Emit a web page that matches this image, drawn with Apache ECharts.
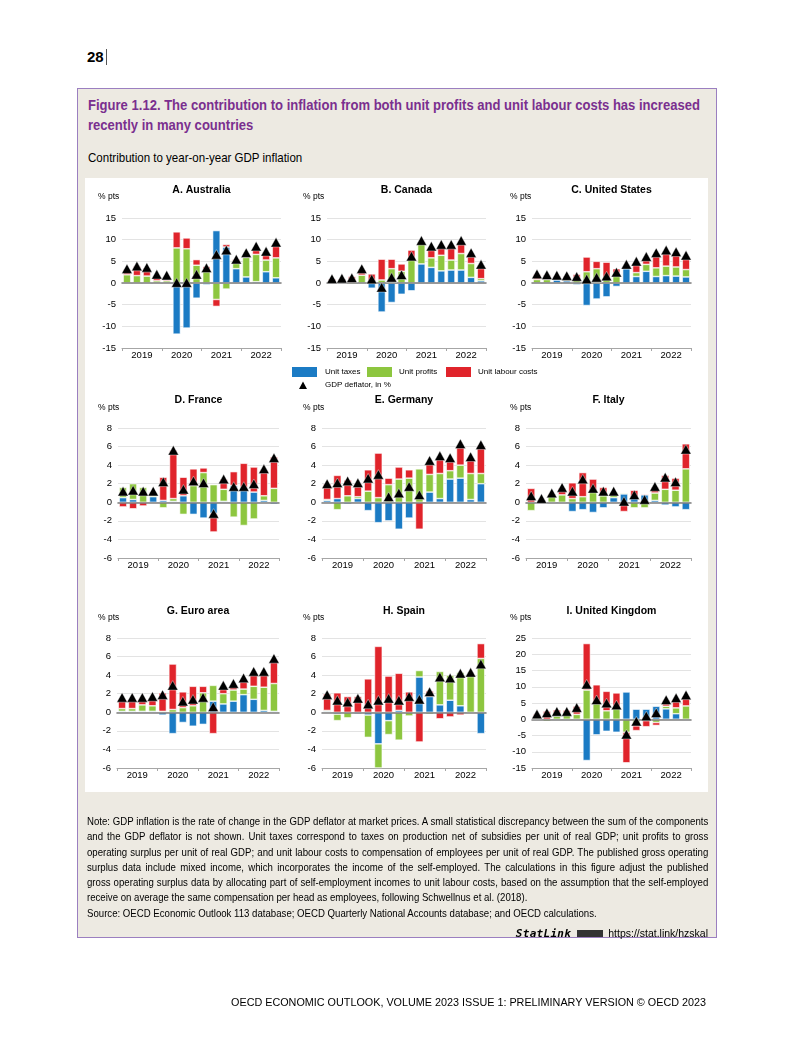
<!DOCTYPE html>
<html><head><meta charset="utf-8">
<script src="https://cdn.jsdelivr.net/npm/echarts@6/dist/echarts.min.js"></script>
<style>
body{margin:0;background:#fff;}
#page{position:relative;width:793px;height:1058px;overflow:hidden;font-family:"Liberation Sans",Arial,sans-serif;color:#000;}
.abs{position:absolute;}
#pno{left:87px;top:48px;font:bold 15px "Liberation Sans",Arial,sans-serif;}
#pbar{left:106px;top:49px;width:1px;height:16px;background:#555;}
#box{left:77px;top:88px;width:638px;height:848px;border:1px solid #9b7fc0;background:#edeae2;}
#title{left:88px;top:95px;width:720px;font-weight:bold;font-size:15px;line-height:19.5px;color:#7a2f8f;white-space:nowrap;transform:scaleX(0.87);transform-origin:0 0;}
#sub{left:88px;top:150px;font-size:12.8px;line-height:16px;white-space:nowrap;transform:scaleX(0.9);transform-origin:0 0;}
#white{left:85px;top:178px;width:623px;height:614px;background:#fff;}
#chart{left:0;top:0;width:793px;height:1058px;}
#note{left:87px;top:814px;width:710px;font-size:11px;line-height:15.3px;transform:scaleX(0.875);transform-origin:0 0;}
#note div{text-align:justify;text-align-last:justify;white-space:nowrap;}
#note div.last{text-align:left;text-align-last:left;}
#statlink{left:440px;top:926px;width:268px;text-align:right;font-size:10.5px;line-height:14px;}
#statlink b{font:italic bold 11px "DejaVu Sans Mono",monospace;letter-spacing:0.3px;}
#statlink i.ic{display:inline-block;width:26px;height:7px;background:#333;margin:0 5px 1px 6px;vertical-align:middle;font-style:normal;}
#footer{left:150px;top:996px;width:556px;text-align:right;font:10.8px "Liberation Sans",Arial,sans-serif;}
</style></head><body>
<div id="page">
 <div id="pno" class="abs">28</div><div id="pbar" class="abs"></div>
 <div id="box" class="abs"></div>
 <div id="title" class="abs">Figure 1.12. The contribution to inflation from both unit profits and unit labour costs has increased<br>recently in many countries</div>
 <div id="sub" class="abs">Contribution to year-on-year GDP inflation</div>
 <div id="white" class="abs"></div>
 <div id="chart" class="abs"></div>
 <div id="note" class="abs">
  <div>Note: GDP inflation is the rate of change in the GDP deflator at market prices. A small statistical discrepancy between the sum of the components</div>
  <div>and the GDP deflator is not shown. Unit taxes correspond to taxes on production net of subsidies per unit of real GDP; unit profits to gross</div>
  <div>operating surplus per unit of real GDP; and unit labour costs to compensation of employees per unit of real GDP. The published gross operating</div>
  <div>surplus data include mixed income, which incorporates the income of the self-employed. The calculations in this figure adjust the published</div>
  <div>gross operating surplus data by allocating part of self-employment incomes to unit labour costs, based on the assumption that the self-employed</div>
  <div class="last">receive on average the same compensation per head as employees, following Schwellnus et al. (2018).</div>
  <div class="last">Source: OECD Economic Outlook 113 database; OECD Quarterly National Accounts database; and OECD calculations.</div>
 </div>
 <div id="statlink" class="abs"><b>StatLink</b><i class="ic"></i>https://stat.link/hzskal</div>
 <div id="footer" class="abs">OECD ECONOMIC OUTLOOK, VOLUME 2023 ISSUE 1: PRELIMINARY VERSION © OECD 2023</div>
</div>
<script>
// ---------- categories & labels ----------
const quarters = ['2019Q1','2019Q2','2019Q3','2019Q4','2020Q1','2020Q2','2020Q3','2020Q4',
                  '2021Q1','2021Q2','2021Q3','2021Q4','2022Q1','2022Q2','2022Q3','2022Q4'];
const years = ['2019','2020','2021','2022'];
const componentNames = ['Unit taxes','Unit profits','Unit labour costs'];
const deflatorName = 'GDP deflator, in %';
const panelTitles = ['A. Australia','B. Canada','C. United States','D. France','E. Germany','F. Italy','G. Euro area','H. Spain','I. United Kingdom'];
const unitLabel = '% pts';
const ticksWide = [-15,-10,-5,0,5,10,15];
const ticksNarrow = [-6,-4,-2,0,2,4,6,8];
const ticksUK = [-15,-10,-5,0,5,10,15,20,25];

// ---------- data (percentage points) ----------
const australiaTaxes    = [0,0,0,0,0,-11.8,-10.4,-3.5,-0.4,12.1,8.3,3.3,1.4,0.3,2.6,1.2];
const australiaProfits  = [1.9,1.7,1.6,0.5,0.5,8.1,7.9,4.1,2.9,-3.8,-1.4,1.7,4.5,6.3,2.7,4.6];
const australiaULC      = [1.2,2.2,1.9,1.2,1.0,3.7,2.5,1.3,0.9,-1.6,0.6,0.5,0.4,1.2,1.3,3.0];
const australiaDeflator = [3.3,3.9,3.6,2.0,1.8,0.1,0.1,2.0,3.5,6.6,7.6,5.5,7.0,8.5,7.3,9.4];

const canadaTaxes    = [0.1,0.1,0,0,-1.2,-6.7,-4.5,-2.6,-1.8,4.4,3.6,2.8,3.0,3.0,1.3,0.5];
const canadaProfits  = [0.1,0.1,-0.3,1.8,0.2,0.7,3.3,2.7,5.6,4.9,2.2,3.6,2.3,3.8,3.2,0.5];
const canadaULC      = [0.8,0.8,1.5,1.2,1.9,4.8,2.2,1.7,2.0,0.2,1.9,2.0,3.4,2.3,2.0,2.8];
const canadaDeflator = [1.0,1.1,1.2,3.3,0.9,-1.0,1.3,1.9,6.2,9.8,8.5,8.9,8.9,9.8,7.0,4.3];

const usTaxes    = [-0.1,-0.2,0.7,0.5,-0.4,-5.2,-3.7,-3.2,-0.8,3.3,1.5,2.7,1.5,1.7,1.6,1.4];
const usProfits  = [0.8,0.8,0.3,0.3,0.8,2.6,3.3,1.0,2.2,0.4,0.9,1.6,2.0,2.2,2.1,1.7];
const usULC      = [1.2,1.0,0.6,0.7,1.2,3.4,1.7,3.8,1.1,0.3,2.2,1.3,3.0,3.3,3.0,2.8];
const usDeflator = [2.1,1.9,1.8,1.7,1.5,0.9,1.3,1.6,2.5,4.3,5.0,6.1,7.0,7.6,7.2,6.4];

const franceTaxes    = [0.5,0.3,0,0.6,0.2,0.1,0.7,-1.3,-1.7,-1.2,0.1,1.8,1.6,1.1,0.2,-0.2];
const franceProfits  = [1.1,1.7,1.6,0.4,-0.6,0.3,-1.3,1.8,3.2,1.9,1.3,-1.6,-2.5,-1.8,0.5,1.5];
const franceULC      = [-0.5,-0.7,-0.4,0.1,2.5,5.2,2.0,1.8,0.5,-2.0,1.1,1.5,2.6,2.7,2.8,3.4];
const franceDeflator = [1.2,1.3,1.2,1.2,2.2,5.6,1.4,2.3,2.1,-1.2,2.5,1.7,1.7,2.0,3.6,4.8];

const germanyTaxes    = [0.2,0.4,-0.2,0.4,-0.9,-2.2,-2.0,-2.9,-1.7,0,1.1,0.4,2.5,2.6,0.3,2.0];
const germanyProfits  = [0.1,-0.8,0.7,0.2,1.2,0.5,1.9,2.5,2.6,3.6,1.9,2.7,0.9,1.4,2.8,1.1];
const germanyULC      = [1.7,2.5,1.7,1.4,2.3,4.8,0.7,1.3,0.9,-2.9,1.2,1.7,1.2,2.1,1.5,3.0];
const germanyDeflator = [2.0,2.1,2.3,2.1,2.6,3.0,0.6,1.0,1.7,0.8,4.5,5.0,4.8,6.3,4.9,6.2];

const italyTaxes    = [0,0.1,0,0,-1.0,-0.8,-1.1,-0.6,0.5,0.9,0.6,0.8,0.2,-0.3,-0.5,-0.8];
const italyProfits  = [-0.9,0.1,0.7,0.8,0.4,0.6,1.2,0.7,0.6,0.1,-0.6,-0.6,0.8,1.4,1.3,3.6];
const italyULC      = [1.5,0.1,0.2,0.7,1.7,2.6,1.3,0.9,-0.1,-1.0,0.7,0.1,0.6,1.5,1.3,2.7];
const italyDeflator = [0.7,0.4,1.0,1.6,1.2,2.5,1.5,1.2,1.2,0.1,0.8,0.3,1.7,2.7,2.2,5.7];

const euroTaxes    = [0.1,0.1,0.1,0.1,-0.3,-2.3,-1.1,-1.5,-1.3,1.2,0.9,1.2,1.9,1.4,0.2,0.1];
const euroProfits  = [0.3,0.3,0.7,0.6,0.1,0.3,0.5,0.7,2.1,1.7,1.1,1.2,0.6,1.4,2.5,3.0];
const euroULC      = [1.0,1.0,0.7,0.8,2.0,4.9,1.7,2.1,0.7,-2.3,0.6,0.4,0.9,1.4,1.5,2.5];
const euroDeflator = [1.6,1.6,1.6,1.7,1.9,2.9,1.2,1.4,1.6,0.6,2.9,3.1,3.7,4.4,4.4,5.8];

const spainTaxes    = [0.1,-0.2,0,-0.2,-0.3,-3.4,-0.9,0.2,0,3.8,1.7,0.8,1.3,0.7,0,-2.3];
const spainProfits  = [0.1,-0.7,-0.6,0,-2.4,-2.6,-1.5,-3.0,-0.4,0.7,-0.2,3.6,2.7,3.6,4.0,5.8];
const spainULC      = [1.8,2.1,1.7,1.7,3.6,7.1,3.9,4.0,2.2,-3.2,0.6,-0.7,-0.5,-0.3,0.1,1.6];
const spainDeflator = [1.9,1.3,1.1,1.5,0.9,1.3,1.5,1.3,1.7,1.4,2.2,3.8,3.7,4.2,4.3,5.2];

const ukTaxes    = [0,0,0,0,0,-12.7,-4.8,-3.7,-4.0,8.4,3.1,3.1,4.0,3.2,1.7,-0.3];
const ukProfits  = [0.4,-0.6,1.0,1.3,1.5,9.0,5.0,2.6,3.7,-4.0,-2.0,-0.4,-1.0,0.8,1.8,4.1];
const ukULC      = [1.2,2.5,1.9,1.5,2.5,14.3,5.6,6.0,4.4,-9.4,-1.5,-1.9,-0.9,1.8,2.8,3.1];
const ukDeflator = [1.6,2.0,2.4,2.4,3.6,10.8,6.0,5.0,4.4,-4.6,-0.6,1.0,2.0,6.0,6.6,7.5];

const panelData = [
  [australiaTaxes, australiaProfits, australiaULC, australiaDeflator, ticksWide],
  [canadaTaxes, canadaProfits, canadaULC, canadaDeflator, ticksWide],
  [usTaxes, usProfits, usULC, usDeflator, ticksWide],
  [franceTaxes, franceProfits, franceULC, franceDeflator, ticksNarrow],
  [germanyTaxes, germanyProfits, germanyULC, germanyDeflator, ticksNarrow],
  [italyTaxes, italyProfits, italyULC, italyDeflator, ticksNarrow],
  [euroTaxes, euroProfits, euroULC, euroDeflator, ticksNarrow],
  [spainTaxes, spainProfits, spainULC, spainDeflator, ticksNarrow],
  [ukTaxes, ukProfits, ukULC, ukDeflator, ticksUK]
];

// ---------- layout & style ----------
const colors = ['#1b7bc4', '#8dc63f', '#e0242b'];
const gridBoxes = [
  {left:122, top:218, width:159}, {left:327, top:218, width:159}, {left:532, top:218, width:159},
  {left:118, top:428, width:161}, {left:322, top:428, width:164}, {left:526, top:428, width:165},
  {left:117, top:638, width:162}, {left:322, top:638, width:164}, {left:532, top:638, width:159}
];
const gridHeight = 130;
const titleY = [190, 400, 611];
const unitY = [197, 408, 618];
const unitX = [98, 303, 510];
const baseFont = '"Liberation Sans", Arial, sans-serif';

const chart = echarts.init(document.getElementById('chart'), null, {renderer:'canvas'});
const grid = [], xAxis = [], yAxis = [], series = [], graphic = [];

panelData.forEach((pd, i) => {
  const g = gridBoxes[i];
  const ticks = pd[4];
  grid.push({left:g.left, top:g.top, width:g.width, height:gridHeight, containLabel:false});
  // bar category axis (zero line)
  xAxis.push({
    type:'category', gridIndex:i, data:quarters, position:'bottom', z:3,
    axisLine:{show:true, onZero:true, lineStyle:{color:'#7f7f7f', width:1.6}},
    axisTick:{show:false}, axisLabel:{show:false}, splitLine:{show:false}
  });
  // year axis at bottom
  xAxis.push({
    type:'category', gridIndex:i, data:years, position:'bottom',
    axisLine:{show:true, onZero:false, lineStyle:{color:'#a6a6a6', width:1}},
    axisTick:{show:true, interval:0, length:3, lineStyle:{color:'#a6a6a6'}},
    axisLabel:{show:true, interval:0, fontSize:9.5, color:'#000', margin:2, fontFamily:baseFont},
    splitLine:{show:false}
  });
  yAxis.push({
    type:'value', gridIndex:i, min:ticks[0], max:ticks[ticks.length-1], interval:ticks[1]-ticks[0],
    axisLine:{show:false}, axisTick:{show:false},
    axisLabel:{fontSize:9.5, color:'#000', margin:6, fontFamily:baseFont},
    splitLine:{show:true, lineStyle:{color:'#e3e3e3', width:1}}
  });
  for (let k = 0; k < 3; k++) {
    series.push({
      type:'bar', name:componentNames[k], xAxisIndex:2*i, yAxisIndex:i, stack:'s'+i,
      data:pd[k], barWidth:'76%', z:2,
      itemStyle:{color:colors[k], borderColor:'#ffffff', borderWidth:0.6},
      emphasis:{disabled:true}
    });
  }
  series.push({
    type:'scatter', name:deflatorName, xAxisIndex:2*i, yAxisIndex:i, data:pd[3],
    symbol:'triangle', symbolSize:[10.5,9.5], z:5,
    itemStyle:{color:'#000', borderColor:'#fff', borderWidth:0.4, opacity:1},
    emphasis:{disabled:true}
  });
  const row = Math.floor(i/3), col = i%3;
  graphic.push({type:'text', z:10, style:{text:panelTitles[i], x:g.left+g.width/2, y:titleY[row],
    textAlign:'center', textVerticalAlign:'middle', font:'bold 10.5px '+baseFont, fill:'#000'}});
  graphic.push({type:'text', z:10, style:{text:unitLabel, x:unitX[col], y:unitY[row],
    textAlign:'left', textVerticalAlign:'middle', font:'8.5px '+baseFont, fill:'#000'}});
});

// legend (drawn as graphics)
const legendFont = '8px ' + baseFont;
const legendItems = [
  {x:292, label:componentNames[0], tx:325, c:colors[0]},
  {x:367, label:componentNames[1], tx:399, c:colors[1]},
  {x:446, label:componentNames[2], tx:478, c:colors[2]}
];
legendItems.forEach(it => {
  graphic.push({type:'rect', shape:{x:it.x, y:367, width:25, height:10}, style:{fill:it.c}});
  graphic.push({type:'text', style:{text:it.label, x:it.tx, y:372, textVerticalAlign:'middle', font:legendFont, fill:'#000'}});
});
graphic.push({type:'polygon', shape:{points:[[299,389],[307,389],[303,381.5]]}, style:{fill:'#000'}});
graphic.push({type:'text', style:{text:deflatorName, x:325, y:385, textVerticalAlign:'middle', font:legendFont, fill:'#000'}});

chart.setOption({
  animation:false,
  backgroundColor:'transparent',
  grid, xAxis, yAxis, series, graphic
});
</script>
</body></html>
